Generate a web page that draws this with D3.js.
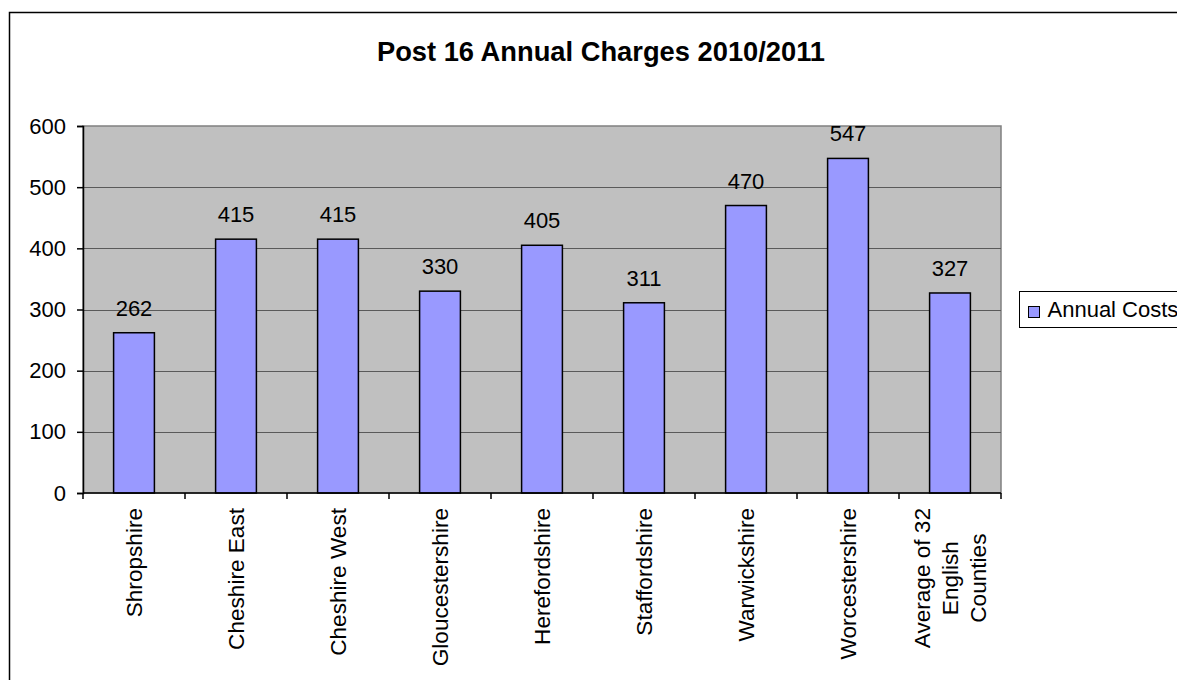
<!DOCTYPE html>
<html>
<head>
    <title>Post 16 Annual Charges 2010/2011</title>
    <script src="https://unpkg.com/d3@7/dist/d3.min.js"></script>
    <style>
        body { margin: 0; background: #fff; }
        svg { display: block; font-family: "Liberation Sans", Arial, sans-serif; }
    </style>
</head>
<body>
    <svg width="1177" height="680"></svg>
    <script>
        // data
        const categories = ['Shropshire', 'Cheshire East', 'Cheshire West', 'Gloucestershire',
            'Herefordshire', 'Staffordshire', 'Warwickshire', 'Worcestershire',
            'Average of 32\nEnglish\nCounties'];
        const annualCosts = [262, 415, 415, 330, 405, 311, 470, 547, 327];
        const yTicks = [0, 100, 200, 300, 400, 500, 600];
        const seriesName = 'Annual Costs';
        const chartTitle = 'Post 16 Annual Charges 2010/2011';

        const svg = d3.select('svg');
        const plot = { left: 83, right: 1001, top: 126, bottom: 493 };
        const fs = 22;

        // outer chart border (runs off the right and bottom edges)
        svg.append('rect')
            .attr('x', 9.5).attr('y', 12.5)
            .attr('width', 1300).attr('height', 800)
            .attr('fill', 'white')
            .attr('stroke', 'black').attr('stroke-width', 1.5);

        svg.append('text')
            .attr('x', 601).attr('y', 61)
            .attr('text-anchor', 'middle')
            .attr('font-size', 27.3).attr('font-weight', 'bold')
            .text(chartTitle);

        const x = d3.scaleBand().domain(categories).range([plot.left, plot.right]).paddingInner(0);
        const y = d3.scaleLinear().domain([0, 600]).range([plot.bottom, plot.top]);
        const barW = x.bandwidth() / 2.5;

        // plot area
        svg.append('rect')
            .attr('x', plot.left).attr('y', plot.top)
            .attr('width', plot.right - plot.left).attr('height', plot.bottom - plot.top)
            .attr('fill', '#c0c0c0')
            .attr('stroke', '#808080').attr('stroke-width', 1.5);

        svg.append('g').selectAll('line')
            .data(yTicks.filter(d => d > 0 && d < 600))
            .enter().append('line')
            .attr('x1', plot.left).attr('x2', plot.right)
            .attr('y1', d => Math.round(y(d)) + 0.5).attr('y2', d => Math.round(y(d)) + 0.5)
            .attr('stroke', '#5a5a5a').attr('stroke-width', 1);

        // bars
        svg.append('g').selectAll('rect')
            .data(annualCosts)
            .enter().append('rect')
            .attr('x', (d, i) => x(categories[i]) + (x.bandwidth() - barW) / 2)
            .attr('y', d => y(d))
            .attr('width', barW)
            .attr('height', d => y(0) - y(d))
            .attr('fill', '#9999ff')
            .attr('stroke', 'black').attr('stroke-width', 1.5);

        // data labels
        svg.append('g').selectAll('text')
            .data(annualCosts)
            .enter().append('text')
            .attr('x', (d, i) => x(categories[i]) + x.bandwidth() / 2)
            .attr('y', d => y(d) - 17)
            .attr('text-anchor', 'middle')
            .attr('font-size', fs)
            .text(d => d);

        // y axis
        const yAxis = svg.append('g')
            .attr('transform', `translate(${plot.left},0)`)
            .call(d3.axisLeft(y).tickValues(yTicks).tickSize(6).tickPadding(11));
        yAxis.select('.domain').attr('stroke', 'black').attr('stroke-width', 1.5);
        yAxis.selectAll('.tick line').attr('stroke', 'black').attr('stroke-width', 1.5);
        yAxis.selectAll('.tick text').attr('font-size', fs).attr('fill', 'black')
            .attr('font-family', '"Liberation Sans", Arial, sans-serif');

        // x axis
        svg.append('line')
            .attr('x1', plot.left).attr('x2', plot.right)
            .attr('y1', plot.bottom).attr('y2', plot.bottom)
            .attr('stroke', 'black').attr('stroke-width', 1.5);
        const bounds = categories.map(c => x(c)).concat([plot.right]);
        svg.append('g').selectAll('line')
            .data(bounds)
            .enter().append('line')
            .attr('x1', d => d).attr('x2', d => d)
            .attr('y1', plot.bottom).attr('y2', plot.bottom + 6)
            .attr('stroke', 'black').attr('stroke-width', 1.5);

        // rotated category labels
        const labelTop = 508;
        const lineGap = 28;
        categories.forEach(c => {
            const lines = c.split('\n');
            const cx = x(c) + x.bandwidth() / 2;
            const g = svg.append('g')
                .attr('transform', `translate(${cx},${labelTop}) rotate(-90)`);
            const t = g.append('text')
                .attr('font-size', 22.6)
                .attr('text-anchor', 'middle')
                .attr('dominant-baseline', 'central');
            lines.forEach((ln, i) => {
                t.append('tspan')
                    .attr('x', 0)
                    .attr('y', (i - (lines.length - 1) / 2) * lineGap)
                    .text(ln);
            });
            const maxW = d3.max(t.selectAll('tspan').nodes(), n => n.getComputedTextLength());
            t.selectAll('tspan').attr('x', -maxW / 2);
        });

        // legend
        const legend = svg.append('g').attr('transform', 'translate(1019.5,291.5)');
        legend.append('rect')
            .attr('width', 200).attr('height', 36)
            .attr('fill', 'white')
            .attr('stroke', 'black').attr('stroke-width', 1);
        legend.append('rect')
            .attr('x', 9).attr('y', 15)
            .attr('width', 11).attr('height', 11)
            .attr('fill', '#9999ff')
            .attr('stroke', 'black').attr('stroke-width', 1);
        legend.append('text')
            .attr('x', 28).attr('y', 25)
            .attr('font-size', fs)
            .text(seriesName);
    </script>
</body>
</html>
